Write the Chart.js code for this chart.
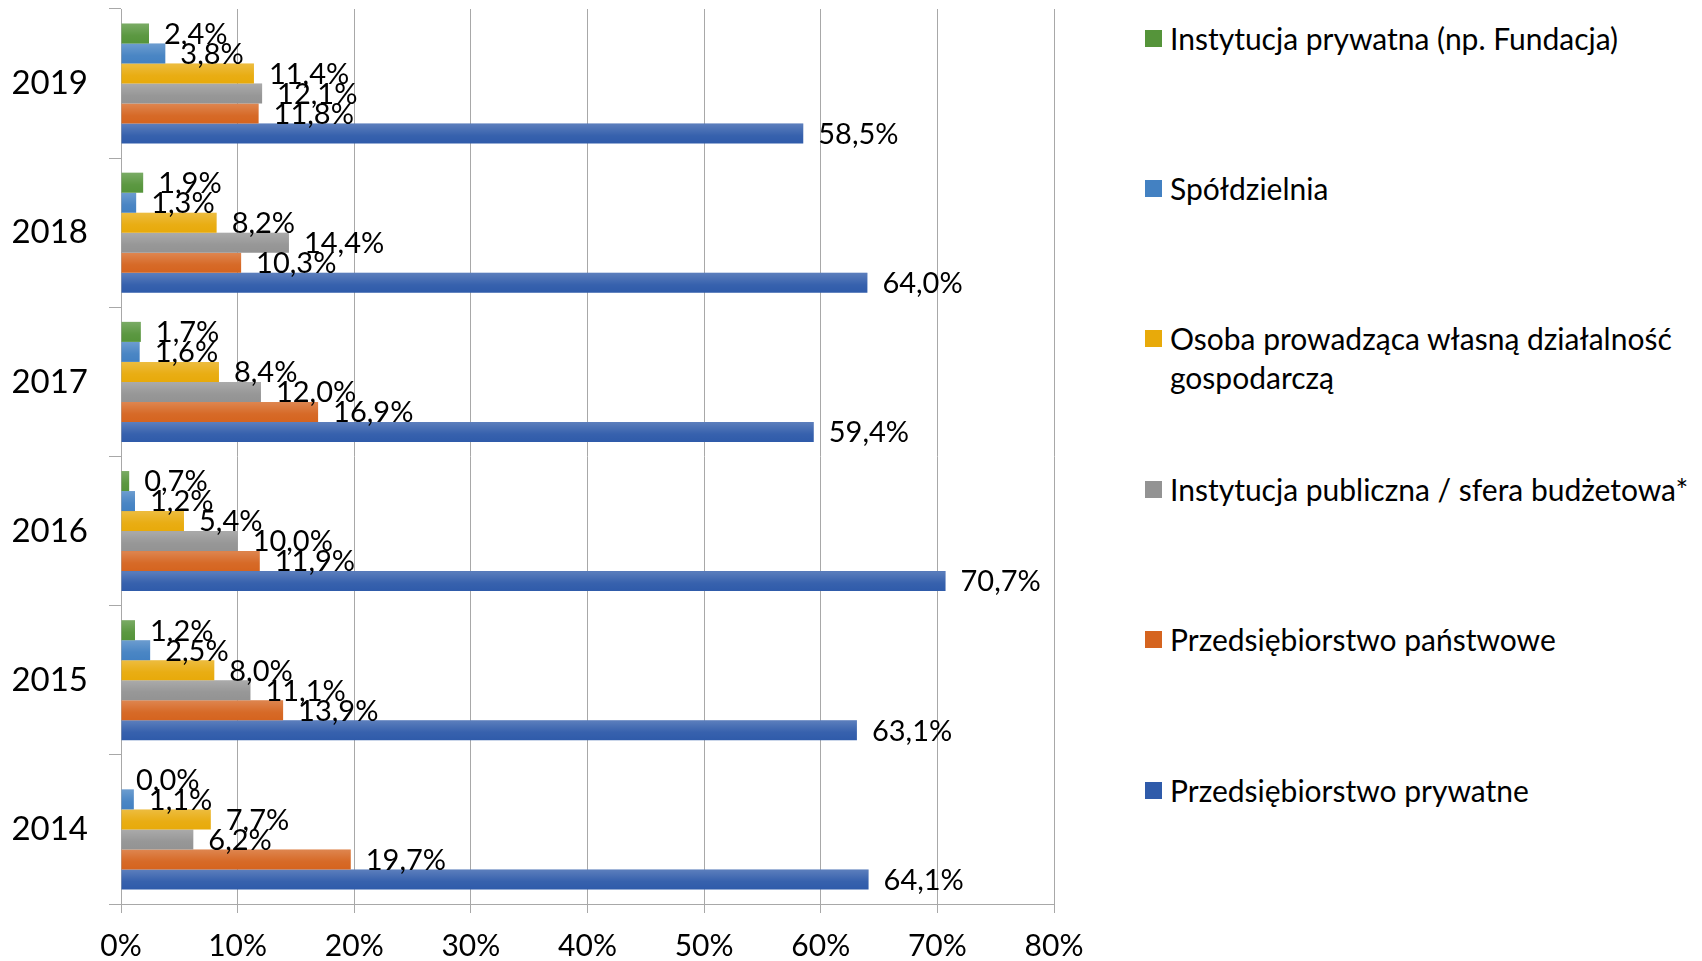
<!DOCTYPE html>
<html>
<head>
<meta charset="utf-8">
<script src="https://cdn.jsdelivr.net/npm/chart.js@4/dist/chart.umd.min.js"></script>
<style>
    body { margin: 0; background: #fff; font-family: Lato, "Noto Sans", sans-serif; }
    #wrap { position: relative; width: 1702px; height: 961px; }
    #chartBox { position: absolute; left: 0; top: 0; width: 1100px; height: 961px; }
    #legend { position: absolute; left: 1145px; top: 0; }
    .item { position: absolute; left: 0; white-space: pre; font-size: 30px; line-height: 39px; color: #000; }
    .item span.box { position: absolute; left: 0; top: 11px; width: 17px; height: 17px; }
    .item span.txt { position: absolute; left: 25px; top: 0; }
</style>
</head>
<body>
<div id="wrap">
    <div id="chartBox"><canvas id="barChart" width="1100" height="961"></canvas></div>
    <div id="legend"></div>
</div>
<script>

// DATA

const years = ['2019', '2018', '2017', '2016', '2015', '2014'];

const seriesNames = [
    'Instytucja prywatna (np. Fundacja)',
    'Spółdzielnia',
    'Osoba prowadząca własną działalność\ngospodarczą',
    'Instytucja publiczna / sfera budżetowa*',
    'Przedsiębiorstwo państwowe',
    'Przedsiębiorstwo prywatne'
];

const instytucjaPrywatna = [2.4, 1.9, 1.7, 0.7, 1.2, 0.0];
const spoldzielnia = [3.8, 1.3, 1.6, 1.2, 2.5, 1.1];
const osobaDzialalnosc = [11.4, 8.2, 8.4, 5.4, 8.0, 7.7];
const instytucjaPubliczna = [12.1, 14.4, 12.0, 10.0, 11.1, 6.2];
const przedsPanstwowe = [11.8, 10.3, 16.9, 11.9, 13.9, 19.7];
const przedsPrywatne = [58.5, 64.0, 59.4, 70.7, 63.1, 64.1];

const xTicks = [0, 10, 20, 30, 40, 50, 60, 70, 80];

const colors = ['#55943a', '#4381c2', '#e8aa0a', '#939393', '#d5641f', '#2f5baa'];

const seriesValues = [
    instytucjaPrywatna, spoldzielnia, osobaDzialalnosc,
    instytucjaPubliczna, przedsPanstwowe, przedsPrywatne
];


// VALUE LABELS + BAR SHINE

function fmt(v) {
    return v.toFixed(1).replace('.', ',') + '%';
}

const barShine = {
    id: 'barShine',
    afterDatasetDraw(chart, args) {
        const ctx = chart.ctx;
        args.meta.data.forEach((bar) => {
            const h = bar.height;
            const top = bar.y - h / 2;
            const w = bar.x - bar.base;
            if (w <= 0) return;
            const g = ctx.createLinearGradient(0, top, 0, top + h);
            g.addColorStop(0, 'rgba(255,255,255,0.22)');
            g.addColorStop(0.6, 'rgba(255,255,255,0.04)');
            g.addColorStop(1, 'rgba(255,255,255,0)');
            ctx.save();
            ctx.fillStyle = g;
            ctx.fillRect(bar.base, top, w, h);
            ctx.restore();
        });
    }
};

const valueLabels = {
    id: 'valueLabels',
    afterDatasetsDraw(chart) {
        const ctx = chart.ctx;
        ctx.save();
        ctx.font = '29px Lato';
        ctx.fillStyle = '#000';
        ctx.textBaseline = 'middle';
        chart.data.datasets.forEach((ds, i) => {
            chart.getDatasetMeta(i).data.forEach((bar, j) => {
                ctx.fillText(fmt(ds.data[j]), bar.x + 15, bar.y + 1);
            });
        });
        ctx.restore();
    }
};


// CHART

new Chart(document.getElementById('barChart'), {

    type: 'bar',

    data: {
        labels: years,
        datasets: seriesValues.map((vals, i) => ({
            label: seriesNames[i],
            data: vals,
            backgroundColor: colors[i],
            borderWidth: 0,
            categoryPercentage: 0.805,
            barPercentage: 1
        }))
    },

    options: {
        indexAxis: 'y',
        responsive: false,
        animation: false,
        layout: {
            padding: { top: 9, right: 46, left: 0, bottom: 0 }
        },
        plugins: {
            legend: { display: false },
            tooltip: { enabled: false }
        },
        scales: {
            x: {
                min: 0,
                max: 80,
                afterBuildTicks: (scale) => {
                    scale.ticks = xTicks.map(v => ({ value: v }));
                },
                afterFit: (scale) => { scale.height = 57; },
                grid: {
                    color: '#a8a8a8',
                    lineWidth: 1,
                    tickLength: 9
                },
                border: { color: '#a8a8a8' },
                ticks: {
                    color: '#000',
                    padding: 15,
                    font: { family: 'Lato', size: 30 },
                    callback: (v) => v + '%'
                }
            },
            y: {
                afterFit: (scale) => {
                    scale.width = 121;
                    scale.paddingTop = 0;
                    scale.paddingBottom = 0;
                },
                grid: {
                    drawOnChartArea: false,
                    color: '#a8a8a8',
                    tickLength: 12
                },
                border: { color: '#a8a8a8' },
                ticks: {
                    color: '#000',
                    padding: 21,
                    font: { family: 'Lato', size: 33 }
                }
            }
        }
    },

    plugins: [barShine, valueLabels]

});


// LEGEND

const legend = document.getElementById('legend');

seriesNames.forEach((name, i) => {
    const item = document.createElement('div');
    item.className = 'item';
    item.style.top = (38 + 150.4 * i - 19.5) + 'px';
    item.innerHTML = '<span class="box" style="background:' + colors[i] + '"></span>' +
        '<span class="txt"></span>';
    item.querySelector('.txt').textContent = name;
    legend.appendChild(item);
});

</script>
</body>
</html>
